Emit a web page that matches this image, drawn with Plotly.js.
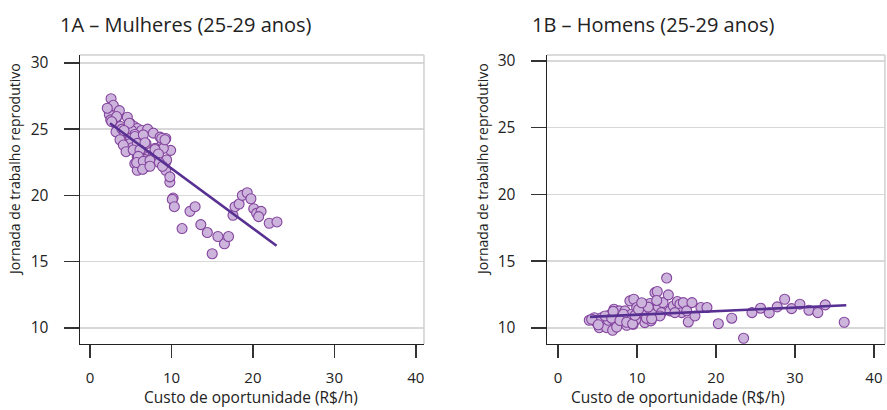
<!DOCTYPE html>
<html>
<head>
<meta charset="utf-8">
<script src="https://cdn.plot.ly/plotly-3.0.1.min.js"></script>
<style>html,body{margin:0;padding:0;background:#fff;}#chart{width:887px;height:410px;}</style>
</head>
<body>
<div id="chart"></div>
<script>
// Panel 1A – Mulheres (25-29 anos)
const womenX = [2.58,2.25,2.86,3.6,2.37,2.54,3.19,4.58,3.07,3.76,4.9,5.4,5.8,6.34,7.07,7.77,3.19,3.93,4.5,5.1,5.5,4.4,3.8,5.0,5.9,4.1,4.9,6.87,8.6,9.3,8.8,9.9,4.5,5.2,6.1,8.0,8.4,9.0,6.46,7.16,7.77,5.8,6.1,6.75,7.45,8.2,5.5,6.2,7.0,5.8,6.5,9.3,9.1,9.3,9.8,10.2,
  2.12,3.27,2.66,4.82,4.17,3.68,5.52,6.54,8.8,4.09,5.8,6.75,9.2,4.42,5.3,6.13,7.98,5.93,8.4,9.4,5.72,6.54,7.36,8.5,6.46,8.9,9.8,7.36,
  10.1,10.35,11.3,12.27,12.9,13.6,14.4,15.0,15.7,16.5,17.0,17.55,17.8,18.3,18.7,19.3,19.75,20.1,20.45,21.0,20.7,22.0,22.95];
const womenY = [27.3,26.6,26.8,26.4,26.1,25.7,25.8,25.9,25.45,25.2,25.45,25.2,25.05,24.9,25.0,24.7,24.8,25.0,24.8,24.9,24.6,24.4,24.2,24.3,24.2,23.9,23.9,23.9,24.4,24.3,23.8,23.4,23.4,23.6,23.55,23.55,23.4,23.55,23.05,22.9,23.1,22.9,22.7,22.7,22.7,22.8,22.4,22.2,22.2,21.9,22.0,22.5,22.2,21.9,21.0,19.8,
  26.58,25.95,25.57,25.45,24.9,24.2,24.45,24.57,24.3,23.8,23.93,23.98,24.2,23.3,23.43,23.43,23.47,22.95,23.13,22.68,22.48,22.57,22.64,22.48,21.97,22.2,21.4,22.2,
  19.7,19.15,17.5,18.8,19.15,17.8,17.2,15.6,16.9,16.35,16.9,18.5,19.15,19.35,20.0,20.2,19.75,19.0,18.65,18.8,18.4,17.9,18.0];
const womenTrendX = [2.45, 22.9];
const womenTrendY = [25.45, 16.2];

// Panel 1B – Homens (25-29 anos)
const menX = [3.96,4.6,4.9,5.23,5.65,5.53,6.16,6.37,6.92,6.67,7.09,7.34,7.76,8.06,8.48,8.7,9.1,9.6,9.53,9.32,9.96,10.3,10.8,11.0,11.4,11.65,11.77,12.07,12.28,12.57,12.7,13.1,13.3,13.76,13.97,14.18,14.6,15.1,15.44,15.87,15.66,16.3,16.5,16.96,17.34,18.1,18.86,20.3,22.0,
  5.95,7.6,8.9,10.6,11.2,12.9,14.8,8.27,9.87,4.26,5.1,6.8,7.0,7.43,7.85,8.7,9.45,9.75,10.2,11.43,11.86,12.5,10.6,
  23.5,24.56,25.65,26.75,27.76,28.7,29.58,30.63,31.77,32.9,33.84,36.24];
const menY = [10.58,10.77,10.4,10.02,10.32,10.77,10.02,10.58,9.83,11.03,11.4,10.4,11.28,10.77,11.28,10.2,12.03,12.15,10.28,11.03,11.53,10.77,11.53,10.4,11.4,11.83,10.53,11.03,12.65,12.73,11.58,11.15,11.9,13.74,12.48,11.28,11.65,11.98,11.78,11.9,11.15,11.28,10.45,11.9,10.9,11.53,11.53,10.32,10.73,
  10.9,10.77,10.65,11.03,10.73,10.9,11.15,11.03,10.65,10.65,10.24,10.73,11.24,10.06,10.56,10.43,10.31,10.94,11.39,11.56,10.69,12.06,11.89,
  9.23,11.15,11.48,11.13,11.58,12.15,11.45,11.78,11.33,11.15,11.73,10.43];
const menTrendX = [4.05, 36.5];
const menTrendY = [10.83, 11.7];

const xTicks = [0, 10, 20, 30, 40];
const yTicks = [10, 15, 20, 25, 30];

const FONT = "Open Sans, sans-serif";
const TXT = "#222";
const markerStyle = {size: 10, color: "#cdb4dc", line: {color: "#83449e", width: 1.1}};
const lineStyle = {color: "#573092", width: 2.6};

const traces = [
  {x: womenX, y: womenY, type: "scatter", mode: "markers", marker: markerStyle, xaxis: "x", yaxis: "y", hoverinfo: "x+y"},
  {x: womenTrendX, y: womenTrendY, type: "scatter", mode: "lines", line: lineStyle, xaxis: "x", yaxis: "y"},
  {x: menX, y: menY, type: "scatter", mode: "markers", marker: markerStyle, xaxis: "x2", yaxis: "y2", hoverinfo: "x+y"},
  {x: menTrendX, y: menTrendY, type: "scatter", mode: "lines", line: lineStyle, xaxis: "x2", yaxis: "y2"}
];

function xa(domain, range, anchor) {
  return {domain: domain, range: range, anchor: anchor, tickvals: xTicks, ticktext: xTicks.map(String),
    ticks: "outside", ticklen: 13, tickwidth: 1.5, tickcolor: "#333",
    showline: true, linecolor: "#222", linewidth: 1.5, showgrid: false, zeroline: false,
    tickfont: {family: FONT, size: 15, color: TXT}, ticklabelstandoff: 7, fixedrange: true};
}
function ya(domain, range, anchor) {
  return {domain: domain, range: range, anchor: anchor, tickvals: yTicks, ticktext: yTicks.map(String),
    ticks: "outside", ticklen: 15, tickwidth: 1.5, tickcolor: "#333",
    showline: true, linecolor: "#222", linewidth: 1.5, showgrid: true, gridcolor: "#d8d8d8", gridwidth: 1.5, zeroline: false,
    tickfont: {family: FONT, size: 15.5, color: TXT}, ticklabelstandoff: 12, fixedrange: true};
}

const yDom = [0.161, 0.866];
const layout = {
  width: 887, height: 410,
  margin: {l: 0, r: 0, t: 0, b: 0},
  paper_bgcolor: "#fff", plot_bgcolor: "#fff",
  showlegend: false,
  font: {family: FONT, color: TXT},
  xaxis: xa([0.0902, 0.478], [-1.23, 41.0], "y"),
  yaxis: ya(yDom, [8.79, 30.6], "x"),
  xaxis2: xa([0.6167, 0.9977], [-1.39, 41.4], "y2"),
  yaxis2: ya(yDom, [8.8, 30.45], "x2"),
  shapes: [
    {type: "line", xref: "x domain", yref: "y domain", x0: 0, x1: 1, y0: 1, y1: 1, line: {color: "#cfcfcf", width: 1.5}},
    {type: "line", xref: "x domain", yref: "y domain", x0: 1, x1: 1, y0: 0, y1: 1, line: {color: "#cfcfcf", width: 1.5}},
    {type: "line", xref: "x2 domain", yref: "y2 domain", x0: 0, x1: 1, y0: 1, y1: 1, line: {color: "#cfcfcf", width: 1.5}},
    {type: "line", xref: "x2 domain", yref: "y2 domain", x0: 1, x1: 1, y0: 0, y1: 1, line: {color: "#cfcfcf", width: 1.5}}
  ],
  annotations: [
    {text: "1A – Mulheres (25-29 anos)", xref: "paper", yref: "paper", x: 58/887, y: 1 - 24/410, xanchor: "left", yanchor: "middle", showarrow: false, font: {family: FONT, size: 20, color: TXT}},
    {text: "1B – Homens (25-29 anos)", xref: "paper", yref: "paper", x: 530/887, y: 1 - 24/410, xanchor: "left", yanchor: "middle", showarrow: false, font: {family: FONT, size: 20, color: TXT}},
    {text: "Custo de oportunidade (R$/h)", xref: "paper", yref: "paper", x: 251/887, y: 1 - 397/410, xanchor: "center", yanchor: "middle", showarrow: false, font: {family: FONT, size: 15.5, color: TXT}},
    {text: "Custo de oportunidade (R$/h)", xref: "paper", yref: "paper", x: 678/887, y: 1 - 397/410, xanchor: "center", yanchor: "middle", showarrow: false, font: {family: FONT, size: 15.5, color: TXT}},
    {text: "Jornada de trabalho reprodutivo", xref: "paper", yref: "paper", x: 15/887, y: 1 - 170/410, xanchor: "center", yanchor: "middle", textangle: -90, showarrow: false, font: {family: FONT, size: 14, color: TXT}},
    {text: "Jornada de trabalho reprodutivo", xref: "paper", yref: "paper", x: 483/887, y: 1 - 170/410, xanchor: "center", yanchor: "middle", textangle: -90, showarrow: false, font: {family: FONT, size: 14, color: TXT}}
  ]
};

Plotly.newPlot("chart", traces, layout, {displayModeBar: false, staticPlot: true});
</script>
</body>
</html>
